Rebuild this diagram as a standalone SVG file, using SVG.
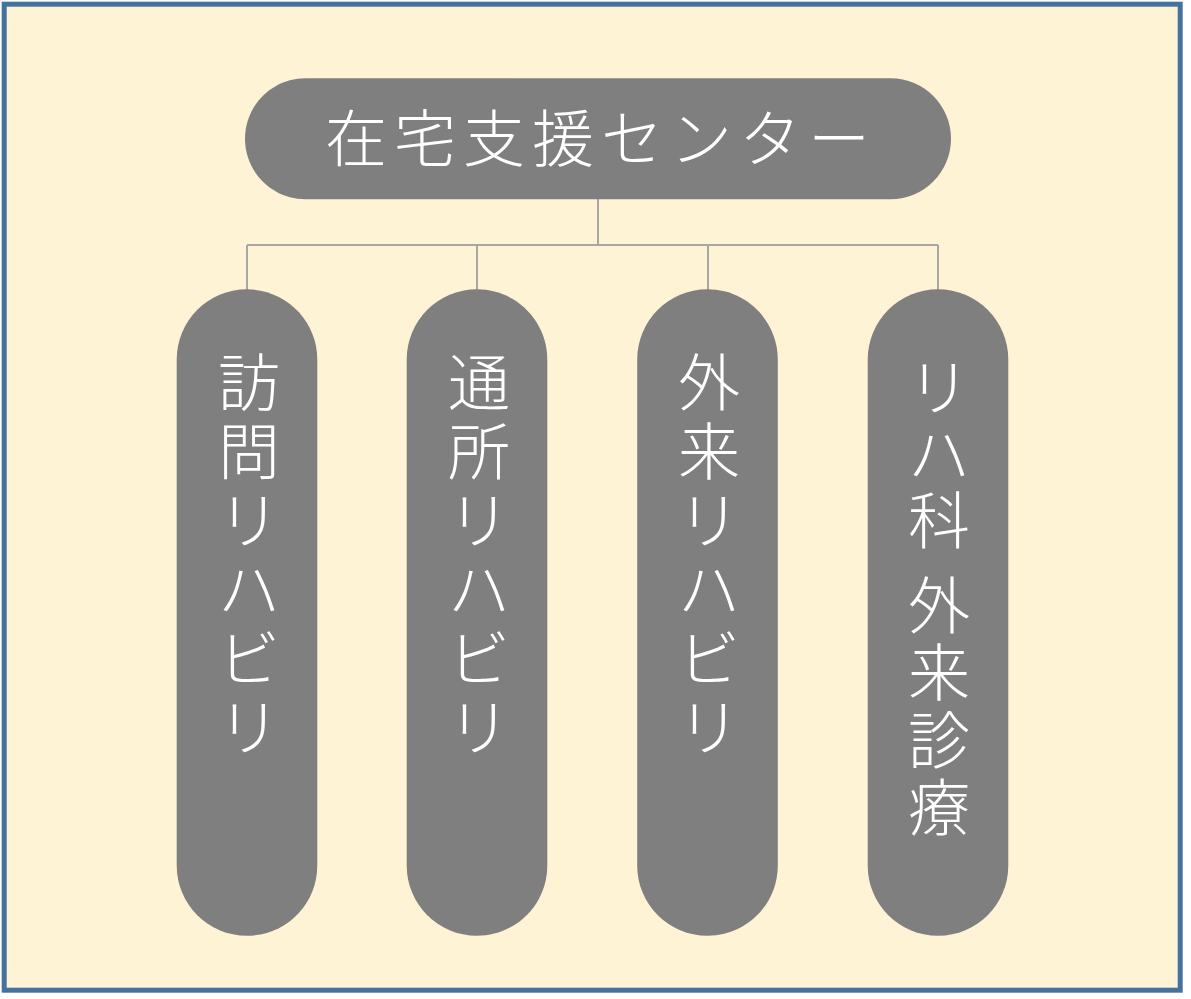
<svg xmlns="http://www.w3.org/2000/svg" width="1191" height="999" viewBox="0 0 1191 999">
<defs>
<path id="colPill" d="M176.7 359.6C176.7 320.77 208.17 289.3 247 289.3C285.83 289.3 317.3 320.77 317.3 359.6V865.4C317.3 904.23 285.83 935.7 247 935.7C208.17 935.7 176.7 904.23 176.7 865.4Z"/>
</defs>
<style>
.pill{fill:#7f7f7f}
.lbl{fill:#ffffff;font-family:"Noto Sans CJK JP","Noto Sans CJK SC",sans-serif;font-weight:300;font-size:62px}
.col{text-anchor:middle}
.conn{fill:none;stroke:#a6a6a6;stroke-width:2}
</style>
<rect x="0" y="0" width="1191" height="999" fill="#ffffff"/>
<rect x="4.2" y="4.2" width="1176" height="986" fill="#fff3d6" stroke="#44729f" stroke-width="5"/>
<g id="connectors">
<path class="conn" d="M598 199V245M247 245H938M247 245V290M477 245V290M708 245V290M938 245V290"/>
</g>
<g id="node-center">
<path class="pill" d="M305.5 78.3H890.5C923.9 78.3 951 105.4 951 138.8C951 172.2 923.9 199.3 890.5 199.3H305.5C272.1 199.3 245 172.2 245 138.8C245 105.4 272.1 78.3 305.5 78.3Z"/>
<text class="lbl" x="325" y="162" letter-spacing="7">在宅支援センター</text>
</g>
<g id="node-houmon">
<use href="#colPill" class="pill"/>
<text class="lbl col"><tspan x="249" y="406">訪</tspan><tspan x="249" y="475">問</tspan><tspan x="249" y="544">リ</tspan><tspan x="249" y="613">ハ</tspan><tspan x="249" y="682">ビ</tspan><tspan x="249" y="751">リ</tspan></text>
</g>
<g id="node-tsusho">
<use href="#colPill" class="pill" x="230"/>
<text class="lbl col"><tspan x="479" y="406">通</tspan><tspan x="479" y="475">所</tspan><tspan x="479" y="544">リ</tspan><tspan x="479" y="613">ハ</tspan><tspan x="479" y="682">ビ</tspan><tspan x="479" y="751">リ</tspan></text>
</g>
<g id="node-gairai">
<use href="#colPill" class="pill" x="460.5"/>
<text class="lbl col"><tspan x="709" y="406">外</tspan><tspan x="709" y="475">来</tspan><tspan x="709" y="544">リ</tspan><tspan x="709" y="613">ハ</tspan><tspan x="709" y="682">ビ</tspan><tspan x="709" y="751">リ</tspan></text>
</g>
<g id="node-rihaka">
<use href="#colPill" class="pill" x="691"/>
<text class="lbl col"><tspan x="939" y="411">リ</tspan><tspan x="939" y="478">ハ</tspan><tspan x="939" y="544">科</tspan><tspan x="939" y="586"> </tspan><tspan x="939" y="629">外</tspan><tspan x="939" y="696">来</tspan><tspan x="939" y="764">診</tspan><tspan x="939" y="831">療</tspan></text>
</g>
</svg>
